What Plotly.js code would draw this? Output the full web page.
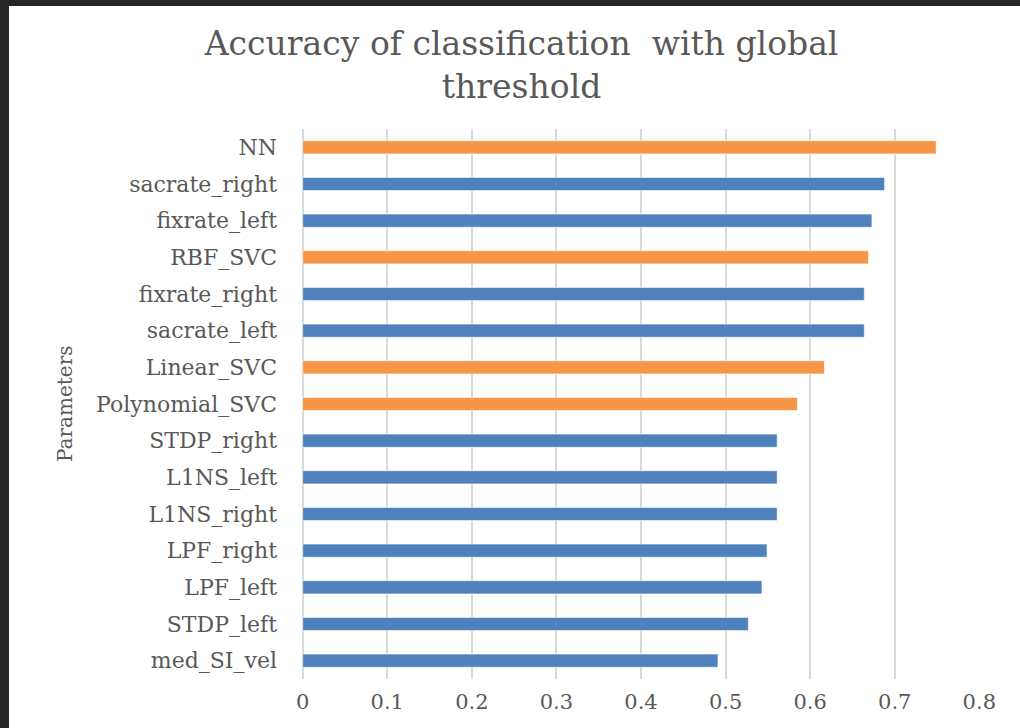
<!DOCTYPE html>
<html>
<head>
<meta charset="utf-8">
<script src="https://cdn.plot.ly/plotly-3.0.1.min.js"></script>
<style>
  html, body { margin: 0; padding: 0; width: 1020px; height: 728px; background: #262626; overflow: hidden; }
  #chart { position: absolute; left: 9px; top: 6px; width: 1011px; height: 722px; background: #ffffff; }
</style>
</head>
<body>
<div id="chart"></div>
<script>
// Categories, top to bottom as shown
const categories = ["NN", "sacrate_right", "fixrate_left", "RBF_SVC", "fixrate_right", "sacrate_left",
  "Linear_SVC", "Polynomial_SVC", "STDP_right", "L1NS_left", "L1NS_right", "LPF_right",
  "LPF_left", "STDP_left", "med_SI_vel"];
const accuracy = [0.749, 0.688, 0.673, 0.669, 0.664, 0.664, 0.617, 0.585, 0.561, 0.561, 0.561,
  0.549, 0.543, 0.527, 0.491];
const group = ["classifier", "parameter", "parameter", "classifier", "parameter", "parameter",
  "classifier", "classifier", "parameter", "parameter", "parameter", "parameter",
  "parameter", "parameter", "parameter"];
const xTicks = [0, 0.1, 0.2, 0.3, 0.4, 0.5, 0.6, 0.7, 0.8];
const titleLines = ["Accuracy of classification  with global", "threshold"];

const colorFor = { classifier: "#f79646", parameter: "#4f81bd" };

const traces = ["parameter", "classifier"].map(g => ({
  type: "bar",
  orientation: "h",
  y: categories.filter((c, i) => group[i] === g),
  x: accuracy.filter((v, i) => group[i] === g),
  marker: { color: colorFor[g], line: { color: "rgba(255,255,255,0.6)", width: 1 } },
  width: 0.36,
  hoverinfo: "x+y",
  showlegend: false
}));

const font = "DejaVu Serif, serif";
const layout = {
  width: 1011, height: 722,
  margin: { l: 293, r: 40, t: 123, b: 49 },
  paper_bgcolor: "#ffffff",
  plot_bgcolor: "#ffffff",
  barmode: "overlay",
  title: {
    text: titleLines.join("<br>"),
    font: { family: font, size: 33, color: "#595959" },
    x: 0.507, xanchor: "center",
    y: 1 - 49 / 722, yanchor: "middle", yref: "container"
  },
  xaxis: {
    range: [-0.0008, 0.8008],
    tickvals: xTicks,
    ticktext: xTicks.map(String),
    showgrid: true, gridcolor: "#d9d9d9", gridwidth: 1.5,
    zeroline: true, zerolinecolor: "#d9d9d9", zerolinewidth: 1.5,
    showline: false, ticks: "",
    ticklabelstandoff: 8,
    tickfont: { family: font, size: 21, color: "#595959" }
  },
  yaxis: {
    type: "category",
    categoryorder: "array",
    categoryarray: categories,
    autorange: "reversed",
    showgrid: false, zeroline: false, showline: false, ticks: "",
    ticklabelstandoff: 24,
    tickfont: { family: font, size: 22, color: "#595959" }
  },
  annotations: [{
    text: "Parameters",
    xref: "paper", yref: "paper",
    x: -(293 - (65 - 9)) / 678, y: 0.5,
    xanchor: "center", yanchor: "middle",
    textangle: -90, showarrow: false,
    font: { family: font, size: 20, color: "#595959" }
  }]
};

Plotly.newPlot("chart", traces, layout, { displayModeBar: false, responsive: false });
</script>
</body>
</html>
